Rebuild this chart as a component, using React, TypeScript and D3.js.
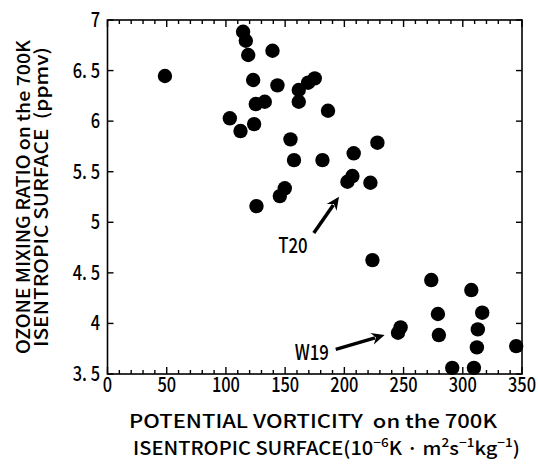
import React from "react";
import * as d3 from "d3";

const pvValues = [114.5,116.8,118.8,139.3,48.5,123.0,143.5,161.5,169.4,175.0,161.5,125.2,132.8,186.2,103.3,112.3,123.8,154.5,157.5,181.5,149.7,145.5,125.8,207.9,206.8,202.6,222.0,227.9,223.7,273.4,307.2,279.0,316.4,247.5,245.3,279.8,312.7,311.9,345.1,291.1,309.4];
const ozoneValues = [6.884,6.795,6.654,6.696,6.446,6.407,6.354,6.308,6.380,6.423,6.192,6.169,6.192,6.103,6.028,5.902,5.971,5.820,5.615,5.615,5.336,5.259,5.160,5.682,5.457,5.401,5.391,5.787,4.626,4.429,4.330,4.093,4.106,3.961,3.908,3.885,3.941,3.763,3.776,3.561,3.561];

const xTicks = [0,50,100,150,200,250,300,350];
const yTicks = [3.5,4,4.5,5,5.5,6,6.5,7];
const yTickLabels = ["3. 5","4","4. 5","5","5. 5","6","6. 5","7"];

const annotations = [
  { label: "T20", labelX: 156.5, labelY: 4.70, tailX: 174.2, tailY: 4.893, tipX: 195.5, tipY: 5.253 },
  { label: "W19", labelX: 172.5, labelY: 3.637, tailX: 192.7, tailY: 3.743, tipX: 234.0, tipY: 3.885 },
];

const FONT = "'Noto Sans CJK JP', 'Noto Sans', sans-serif";
const FW = 500;

function NarrowText(props: { x: number; y: number; anchor: string; size: number; sx: number; children: any }) {
  return (
    <text
      transform={`translate(${props.x},${props.y}) scale(${props.sx},1)`}
      textAnchor={props.anchor}
      fontFamily={FONT}
      fontWeight={FW}
      fontSize={props.size}
      fill="#000"
      style={{ whiteSpace: "pre" }}
    >
      {props.children}
    </text>
  );
}

export default function App() {
  const W = 538, H = 472;
  const left = 107.5, right = 522, top = 20, bottom = 374;
  const x = d3.scaleLinear().domain([0, 350]).range([left, right]);
  const y = d3.scaleLinear().domain([3.5, 7]).range([bottom, top]);
  const minorX = d3.range(0, 351, 10);
  const midY = (top + bottom) / 2;

  return (
    <svg width={W} height={H} style={{ position: "absolute", left: 0, top: 0, background: "#fff" }}>
      <rect x={0} y={0} width={W} height={H} fill="#fff" />
      <rect x={left} y={top} width={right - left} height={bottom - top} fill="none" stroke="#000" strokeWidth={1.6} />
      {minorX.map((v) => {
        const major = v % 50 === 0;
        const len = major ? 7 : 4;
        return (
          <g key={"xt" + v}>
            <line x1={x(v)} x2={x(v)} y1={bottom} y2={bottom - len} stroke="#000" strokeWidth={1.4} />
            <line x1={x(v)} x2={x(v)} y1={top} y2={top + len} stroke="#000" strokeWidth={1.4} />
          </g>
        );
      })}
      {yTicks.map((v) => (
        <g key={"yt" + v}>
          <line x1={left} x2={left + 6} y1={y(v)} y2={y(v)} stroke="#000" strokeWidth={1.4} />
          <line x1={right} x2={right - 6} y1={y(v)} y2={y(v)} stroke="#000" strokeWidth={1.4} />
        </g>
      ))}
      {xTicks.map((v) => (
        <NarrowText key={"xl" + v} x={x(v)} y={392} anchor="middle" size={20} sx={0.82}>
          {String(v)}
        </NarrowText>
      ))}
      {yTicks.map((v, i) => (
        <NarrowText key={"yl" + v} x={100} y={y(v) + 7} anchor="end" size={20} sx={0.82}>
          {yTickLabels[i]}
        </NarrowText>
      ))}
      {pvValues.map((v, i) => (
        <circle key={"p" + i} cx={x(v)} cy={y(ozoneValues[i])} r={7.2} fill="#000" />
      ))}
      {annotations.map((a) => {
        const x1 = x(a.tailX), y1 = y(a.tailY), x2 = x(a.tipX), y2 = y(a.tipY);
        const ang = Math.atan2(y2 - y1, x2 - x1);
        const hl = 13, hw = 6;
        const bx = x2 - hl * Math.cos(ang), by = y2 - hl * Math.sin(ang);
        const px = -Math.sin(ang), py = Math.cos(ang);
        const head = `M${x2},${y2} L${bx + px * hw},${by + py * hw} L${bx + 4 * Math.cos(ang)},${by + 4 * Math.sin(ang)} L${bx - px * hw},${by - py * hw} Z`;
        return (
          <g key={a.label}>
            <line x1={x1} y1={y1} x2={bx + 3 * Math.cos(ang)} y2={by + 3 * Math.sin(ang)} stroke="#000" strokeWidth={3.5} />
            <path d={head} fill="#000" />
            <NarrowText x={x(a.labelX)} y={y(a.labelY)} anchor="middle" size={21} sx={0.8}>
              {a.label}
            </NarrowText>
          </g>
        );
      })}
      <text x={313} y={428} textAnchor="middle" fontFamily={FONT} fontWeight={FW} fontSize={18.5} fill="#000" textLength={368} lengthAdjust="spacingAndGlyphs" style={{ whiteSpace: "pre" }}>
        {"POTENTIAL VORTICITY  on the 700K"}
      </text>
      <text x={133} y={455} fontFamily={FONT} fontWeight={FW} fontSize={18.5} fill="#000" textLength={387} lengthAdjust="spacingAndGlyphs" style={{ whiteSpace: "pre" }}>
        <tspan>ISENTROPIC SURFACE(10</tspan>
        <tspan dy={-8} fontSize={12.5}>−6</tspan>
        <tspan dy={8}>K · m</tspan>
        <tspan dy={-8} fontSize={12.5}>2</tspan>
        <tspan dy={8}>s</tspan>
        <tspan dy={-8} fontSize={12.5}>−1</tspan>
        <tspan dy={8}>kg</tspan>
        <tspan dy={-8} fontSize={12.5}>−1</tspan>
        <tspan dy={8}>)</tspan>
      </text>
      <g transform={`translate(30, ${midY}) rotate(-90)`}>
        <text x={0} y={0} textAnchor="middle" fontFamily={FONT} fontWeight={FW} fontSize={18} fill="#000" textLength={314} lengthAdjust="spacingAndGlyphs" style={{ whiteSpace: "pre" }}>
          {"OZONE MIXING RATIO on the 700K"}
        </text>
      </g>
      <g transform={`translate(48, ${midY}) rotate(-90)`}>
        <text x={0} y={0} textAnchor="middle" fontFamily={FONT} fontWeight={FW} fontSize={18} fill="#000" textLength={300} lengthAdjust="spacingAndGlyphs" style={{ whiteSpace: "pre" }}>
          {"ISENTROPIC SURFACE  (ppmv)"}
        </text>
      </g>
    </svg>
  );
}
